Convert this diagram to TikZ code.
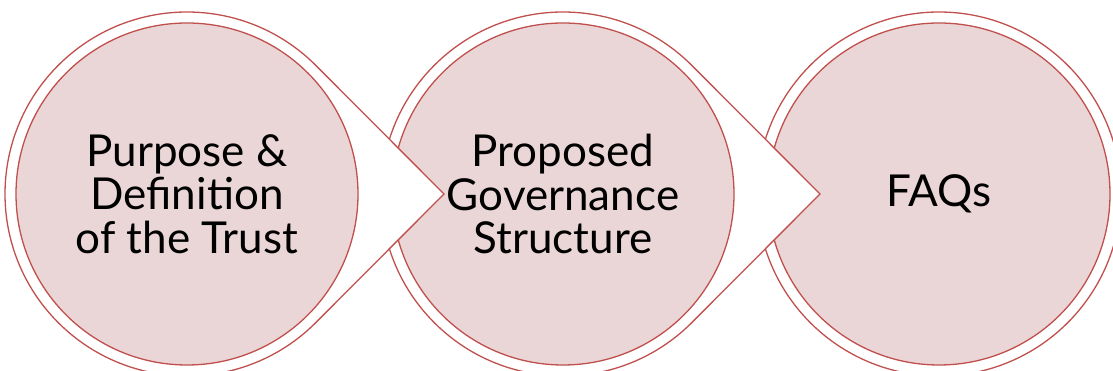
\documentclass[tikz,border=0pt]{standalone}
\usepackage{fontspec}
\setmainfont{Lato}
\usetikzlibrary{calc}
\definecolor{edgered}{RGB}{192,80,77}
\definecolor{pinkfill}{RGB}{234,214,214}
\tikzset{
  outershape/.style={draw=edgered, fill=white, line width=1.3pt},
  innercircle/.style={circle, draw=edgered, fill=pinkfill, line width=1.3pt,
    minimum size=342pt, inner sep=0pt, align=center,
    font=\fontsize{44}{43.5}\selectfont, text=black},
}
\begin{document}
\begin{tikzpicture}[x=1pt,y=1pt]
\useasboundingbox (0,0) rectangle (1113,371);
\clip (0,0) rectangle (1113,371);
\coordinate (c1) at (187,177);
\coordinate (c2) at (563,177);
\coordinate (c3) at (939,177);
\coordinate (t1) at (444,177);
\coordinate (t2) at (820,177);
% shape 3
\draw[outershape] (c3) circle[radius=182];
\node[innercircle] (n3) at (c3) {FAQs};
% shape 2
\draw[outershape] ($(c2)+(45:182)$) -- (t2) -- ($(c2)+(-45:182)$)
  arc[start angle=-45, end angle=-315, radius=182] -- cycle;
\node[innercircle] (n2) at (c2) {Proposed\\Governance\\Structure};
% shape 1
\draw[outershape] ($(c1)+(45:182)$) -- (t1) -- ($(c1)+(-45:182)$)
  arc[start angle=-45, end angle=-315, radius=182] -- cycle;
\node[innercircle] (n1) at (c1) {Purpose \&\\Definition\\of the Trust};
\end{tikzpicture}
\end{document}
